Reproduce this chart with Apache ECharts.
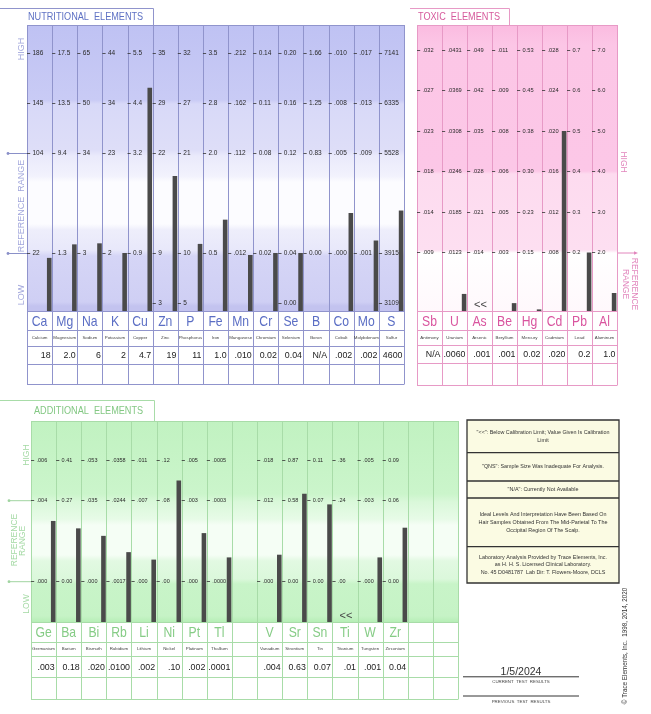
<!DOCTYPE html>
<html><head><meta charset="utf-8">
<script src="https://cdn.jsdelivr.net/npm/echarts@6/dist/echarts.min.js"></script>
<style>html,body{margin:0;padding:0;background:#fff}#c{width:651px;height:714px}</style>
</head><body><div id="c"></div>
<script>
// ---------------- DATA ----------------
const nutriSymbols = ['Ca','Mg','Na','K','Cu','Zn','P','Fe','Mn','Cr','Se','B','Co','Mo','S'];
const nutriNames = ['Calcium','Magnesium','Sodium','Potassium','Copper','Zinc','Phosphorus','Iron','Manganese','Chromium','Selenium','Boron','Cobalt','Molybdenum','Sulfur'];
const nutriResults = ['18','2.0','6','2','4.7','19','11','1.0','.010','0.02','0.04','N/A','.002','.002','4600'];
const nutriValues = [18, 2.0, 6, 2, 4.7, 19, 11, 1.0, 0.010, 0.02, 0.04, null, 0.002, 0.002, 4600];
const nutriBelow = [false,false,false,false,false,false,false,false,false,false,false,false,false,false,false];
// tick labels at: bottom, ref-low, ref-high, high-1, high-2
const nutriTicks = [
  ['', '22', '104', '145', '186'],
  ['', '1.3', '9.4', '13.5', '17.5'],
  ['', '3', '34', '50', '65'],
  ['', '2', '23', '34', '44'],
  ['', '0.9', '3.2', '4.4', '5.5'],
  ['3', '9', '22', '29', '35'],
  ['5', '10', '21', '27', '32'],
  ['', '0.5', '2.0', '2.8', '3.5'],
  ['', '.012', '.112', '.162', '.212'],
  ['', '0.02', '0.08', '0.11', '0.14'],
  ['0.00', '0.04', '0.12', '0.16', '0.20'],
  ['', '0.00', '0.83', '1.25', '1.66'],
  ['', '.000', '.005', '.008', '.010'],
  ['', '.001', '.009', '.013', '.017'],
  ['3109', '3915', '5528', '6335', '7141']
];

const toxicSymbols = ['Sb','U','As','Be','Hg','Cd','Pb','Al'];
const toxicNames = ['Antimony','Uranium','Arsenic','Beryllium','Mercury','Cadmium','Lead','Aluminum'];
const toxicResults = ['N/A','.0060','.001','.001','0.02','.020','0.2','1.0'];
const toxicValues = [null, 0.0060, 0.001, 0.001, 0.02, 0.020, 0.2, 1.0];
const toxicBelow = [false,false,true,false,false,false,false,false];
const toxicTicks = [
  ['.009', '.014', '.018', '.023', '.027', '.032'],
  ['.0123', '.0185', '.0246', '.0308', '.0369', '.0431'],
  ['.014', '.021', '.028', '.035', '.042', '.049'],
  ['.003', '.005', '.006', '.008', '.009', '.011'],
  ['0.15', '0.23', '0.30', '0.38', '0.45', '0.53'],
  ['.008', '.012', '.016', '.020', '.024', '.028'],
  ['0.2', '0.3', '0.4', '0.5', '0.6', '0.7'],
  ['2.0', '3.0', '4.0', '5.0', '6.0', '7.0']
];

const addSymbols = ['Ge','Ba','Bi','Rb','Li','Ni','Pt','Tl','','V','Sr','Sn','Ti','W','Zr','',''];
const addNames = ['Germanium','Barium','Bismuth','Rubidium','Lithium','Nickel','Platinum','Thallium','','Vanadium','Strontium','Tin','Titanium','Tungsten','Zirconium','',''];
const addResults = ['.003','0.18','.020','.0100','.002','.10','.002','.0001','','.004','0.63','0.07','.01','.001','0.04','',''];
const addValues = [0.003, 0.18, 0.020, 0.0100, 0.002, 0.10, 0.002, 0.0001, null, 0.004, 0.63, 0.07, 0.01, 0.001, 0.04, null, null];
const addBelow = [false,false,false,false,false,false,false,false,false,false,false,false,true,false,false,false,false];
// tick labels at: ref-low, ref-high, high
const addTicks = [
  ['.000', '.004', '.006'],
  ['0.00', '0.27', '0.41'],
  ['.000', '.035', '.053'],
  ['.0017', '.0244', '.0358'],
  ['.000', '.007', '.011'],
  ['.00', '.08', '.12'],
  ['.000', '.003', '.005'],
  ['.0000', '.0003', '.0005'],
  null,
  ['.000', '.012', '.018'],
  ['0.00', '0.58', '0.87'],
  ['0.00', '0.07', '0.11'],
  ['.00', '.24', '.36'],
  ['.000', '.003', '.005'],
  ['0.00', '0.06', '0.09'],
  null,
  null
];

const legendRows = [
  ['"<<": Below Calibration Limit; Value Given Is Calibration', 'Limit'],
  ['"QNS": Sample Size Was Inadequate For Analysis.'],
  ['"N/A": Currently Not Available'],
  ['Ideal Levels And Interpretation Have Been Based On', 'Hair Samples Obtained From The Mid-Parietal To The', 'Occipital Region Of The Scalp.'],
  ['Laboratory Analysis Provided by Trace Elements, Inc.', 'as H. H. S. Licensed Clinical Laboratory.', 'No. 45 D0481787  Lab Dir: T. Flowers-Moore, DCLS']
];
const testDate = '1/5/2024';
const copyright = '\u00A9 Trace Elements, Inc.  1998, 2014, 2020';

// ---------------- LAYOUT ----------------
const FONT = '"Liberation Sans", Arial, Helvetica, sans-serif';
const panels = [
  { title: 'NUTRITIONAL  ELEMENTS', symbols: nutriSymbols, names: nutriNames, results: nutriResults, values: nutriValues, below: nutriBelow, ticks: nutriTicks,
    tickUnits: [0,1,3,4,5], fitIdx: [1,4], left: 27, right: 404, top: 25, bottom: 311, rows: [311,330,346,364,384],
    unitY0: 303, unitPx: 50, tickFont: 6.5, lineColor: '#9094cc', symColor: '#5b6ec4', titleColor: '#5f72c4',
    bg: [[25,'#bfc2f3'],[100,'#c9cbf5'],[104,'#d8d9f8'],[150,'#dedef8'],[156,'#eaeafb'],[176,'#f2f2fd'],[182,'#fcfcff'],[224,'#fcfcff'],[230,'#eeeefb'],[250,'#e8e8fa'],[256,'#d5d5f6'],[302,'#cfcff4'],[306,'#c3c3ef'],[311,'#c3c3ef']],
    tab: [[0,8.5],[153.5,8.5],[153.5,25]], titleX: 28, titleY: 17.5 },
  { title: 'TOXIC  ELEMENTS', symbols: toxicSymbols, names: toxicNames, results: toxicResults, values: toxicValues, below: toxicBelow, ticks: toxicTicks,
    tickUnits: [0,1,2,3,4,5], fitIdx: [0,5], left: 417, right: 617, top: 25, bottom: 311, rows: [311,330,345,363,385],
    unitY0: 252.5, unitPx: 40.5, tickFont: 5.7, lineColor: '#e79ac6', symColor: '#d9559f', titleColor: '#d65a9c',
    bg: [[25,'#fbbbe0'],[45,'#fcc6e6'],[171,'#fcc7e7'],[174,'#fddbef'],[250,'#fddff1'],[253,'#ffffff'],[311,'#fff8fc']],
    tab: [[410,8.5],[509.5,8.5],[509.5,25]], titleX: 418, titleY: 17.5 },
  { title: 'ADDITIONAL  ELEMENTS', symbols: addSymbols, names: addNames, results: addResults, values: addValues, below: addBelow, ticks: addTicks,
    tickUnits: [0,2,3], fitIdx: [0,2], left: 31, right: 458, top: 421, bottom: 622, rows: [622,642,656,677,699],
    unitY0: 581.7, unitPx: 40.5, tickFont: 5.5, lineColor: '#a8dca8', symColor: '#86cc86', titleColor: '#84c884',
    bg: [[421,'#c1f2c1'],[494,'#cbf5cb'],[502,'#daf8da'],[519,'#e7fbe7'],[525,'#f5fef5'],[555,'#f5fef5'],[561,'#e2f9e2'],[579,'#dbf8db'],[584,'#c8f4c8'],[616,'#c6f3c6'],[622,'#b6eeb6']],
    tab: [[0,400.5],[154.5,400.5],[154.5,421]], titleX: 34, titleY: 411 }
];

const graphics = [];
const grids = [], xAxes = [], yAxes = [], series = [];

function line(x1,y1,x2,y2,color,w,z){ return {type:'line', silent:true, z: z||1, shape:{x1,y1,x2,y2}, style:{stroke:color, lineWidth:w||1}}; }
function txt(x,y,text,o){
  o = o || {};
  return {type:'text', silent:true, z: o.z||6, x, y, rotation: o.rot||0, scaleX: o.sx||1, scaleY: 1,
    style:{text, fill:o.color||'#333', font:(o.weight?o.weight+' ':'')+(o.size||8)+'px '+FONT,
      align:o.align||'center', verticalAlign:'middle', textAlign:o.align||'center', textVerticalAlign:'middle'}};
}
function grad(stops, top, bottom){
  return new echarts.graphic.LinearGradient(0,0,0,1, stops.map(s=>({offset:(s[0]-top)/(bottom-top), color:s[1]})));
}
function renderBar(params, api){
  const cs = params.coordSys;
  const yTop = api.coord([0, api.value(1)])[1];
  const yBot = cs.y + cs.height;
  const h = Math.max(yBot - yTop, 1.6);
  const w = 4.6;
  return {type:'rect', shape:{x: cs.x + cs.width - w - 0.6, y: yBot - h, width: w, height: h}, style:{fill:'#4a4a4a'}};
}
function makeFmt(tv, tl){
  return function(val){
    let best = 0, bd = Infinity;
    tv.forEach((t,k)=>{ const d = Math.abs(t - val); if (d < bd){ bd = d; best = k; } });
    return tl[best];
  };
}

panels.forEach(p => {
  const n = p.symbols.length;
  const colW = (p.right - p.left) / n;
  const uBottom = (p.unitY0 - p.bottom) / p.unitPx;
  const uTop = (p.unitY0 - p.top) / p.unitPx;
  const tableBottom = p.rows[p.rows.length-1];
  graphics.push({type:'rect', silent:true, z:0, shape:{x:p.left, y:p.top, width:p.right-p.left, height:p.bottom-p.top}, style:{fill:grad(p.bg, p.top, p.bottom)}});
  graphics.push({type:'polyline', silent:true, z:1, shape:{points:p.tab}, style:{stroke:p.lineColor, lineWidth:1, fill:null}});
  graphics.push(txt(p.titleX, p.titleY, p.title, {align:'left', size:10.5, color:p.titleColor, sx:0.87}));
  graphics.push(line(p.left, p.top+0.5, p.right, p.top+0.5, p.lineColor));
  p.rows.forEach(y => graphics.push(line(p.left, y+0.5, p.right, y+0.5, p.lineColor)));
  for (let i = 0; i <= n; i++){
    const x = Math.round(p.left + i*colW) + 0.5;
    graphics.push(line(x, p.top, x, tableBottom+0.5, p.lineColor, 1, 3));
  }
  for (let i = 0; i < n; i++){
    const x0 = p.left + i*colW, x1 = x0 + colW, cx = x0 + colW/2;
    if (p.symbols[i]){
      graphics.push(txt(cx, (p.rows[0]+p.rows[1])/2 + 1, p.symbols[i], {size:14.5, color:p.symColor, sx:0.84}));
      graphics.push(txt(cx, (p.rows[1]+p.rows[2])/2, p.names[i], {size:4.4, color:'#444'}));
      graphics.push(txt(x1 - 1.5, (p.rows[2]+p.rows[3])/2 + 0.5, p.results[i], {size:9.6, color:'#222', align:'right', sx:0.92}));
    }
    if (p.below[i]){
      graphics.push(txt(cx + 1, p.bottom - 6.5, '<<', {size:11, color:'#444'}));
    }
    const t = p.ticks[i];
    if (!t) continue;
    const ia = p.fitIdx[0], ib = p.fitIdx[1];
    const ua = p.tickUnits[ia], ub = p.tickUnits[ib];
    const va = parseFloat(t[ia]), vb = parseFloat(t[ib]);
    const slope = (vb - va) / (ub - ua);
    const f = u => va + (u - ua) * slope;
    const tv = [], tl = [];
    t.forEach((s,k) => { if (s !== '') { tv.push(f(p.tickUnits[k])); tl.push(s); } });
    const gi = grids.length;
    grids.push({left: x0, top: p.top, width: colW, height: p.bottom - p.top, show:false, containLabel:false});
    xAxes.push({type:'category', gridIndex:gi, data:['v'], show:false});
    yAxes.push({type:'value', gridIndex:gi, min:f(uBottom), max:f(uTop), position:'left', z:5,
      axisLine:{show:false}, splitLine:{show:false},
      axisTick:{show:true, inside:true, length:3.2, customValues:tv, lineStyle:{color:'#333', width:0.8}},
      axisLabel:{show:true, inside:true, margin:5.5, customValues:tv, showMinLabel:true, showMaxLabel:true,
        fontSize:p.tickFont, color:'#2a2a2a', fontFamily:FONT, verticalAlign:'middle', formatter:makeFmt(tv, tl)}});
    const v = p.values[i];
    series.push({type:'custom', xAxisIndex:gi, yAxisIndex:gi, z:4, silent:true, clip:false, animation:false,
      renderItem:renderBar, data:(v === null || p.below[i]) ? [] : [[0, v]]});
  }
});

// side labels - nutritional
const nC = '#a2a7dc';
graphics.push(txt(22, 49, 'HIGH', {rot:Math.PI/2, size:9, color:nC}));
graphics.push(txt(22, 206, 'REFERENCE  RANGE', {rot:Math.PI/2, size:9, color:nC}));
graphics.push(txt(22, 295, 'LOW', {rot:Math.PI/2, size:9, color:nC}));
[153, 253].forEach(y => {
  graphics.push(line(8, y+0.5, 27, y+0.5, '#8a90c8'));
  graphics.push({type:'circle', silent:true, z:2, shape:{cx:8, cy:y+0.5, r:1.4}, style:{fill:'#8a90c8'}});
});
// toxic
const tC = '#e286bd';
graphics.push(txt(623.5, 162, 'HIGH', {rot:-Math.PI/2, size:8.5, color:tC}));
graphics.push(txt(634, 284, 'REFERENCE', {rot:-Math.PI/2, size:8.5, color:tC}));
graphics.push(txt(625, 284, 'RANGE', {rot:-Math.PI/2, size:8.5, color:tC}));
graphics.push(line(617, 253, 636, 253, tC));
graphics.push({type:'polygon', silent:true, z:2, shape:{points:[[638,253],[634,251.2],[634,254.8]]}, style:{fill:tC}});
// additional
const aC = '#a3d9a3';
graphics.push(txt(27, 455, 'HIGH', {rot:Math.PI/2, size:8.5, color:aC}));
graphics.push(txt(14.5, 540, 'REFERENCE', {rot:Math.PI/2, size:8.5, color:aC}));
graphics.push(txt(22.5, 541, 'RANGE', {rot:Math.PI/2, size:8.5, color:aC}));
graphics.push(txt(27, 604, 'LOW', {rot:Math.PI/2, size:8.5, color:aC}));
[500.7, 581.7].forEach(y => {
  graphics.push(line(9, y, 31, y, '#a0d4a0'));
  graphics.push({type:'circle', silent:true, z:2, shape:{cx:9, cy:y, r:1.4}, style:{fill:'#a0d4a0'}});
});

// legend box
const lbX = 467, lbW = 152;
const lbRows = [420, 452.7, 481, 498, 546.7, 583];
graphics.push({type:'rect', silent:true, z:1, shape:{x:lbX, y:lbRows[0], width:lbW, height:lbRows[5]-lbRows[0]}, style:{fill:'#fbfbe3', stroke:'#333', lineWidth:1.3}});
for (let r = 1; r < 5; r++) graphics.push(line(lbX, lbRows[r], lbX+lbW, lbRows[r], '#333', 1.3));
legendRows.forEach((rowLines, r) => {
  const cy = (lbRows[r] + lbRows[r+1]) / 2;
  const lh = 7.7;
  rowLines.forEach((s, k) => {
    graphics.push(txt(lbX + lbW/2, cy + (k - (rowLines.length-1)/2) * lh, s, {size:5.4, color:'#333'}));
  });
});
// test results
graphics.push(txt(521, 672, testDate, {size:10.5, color:'#333'}));
graphics.push(line(463, 676.8, 579, 676.8, '#333', 1));
graphics.push(txt(521, 682, 'CURRENT  TEST  RESULTS', {size:4.4, color:'#444'}));
graphics.push(line(463, 696, 579, 696, '#333', 1));
graphics.push(txt(521, 701.5, 'PREVIOUS  TEST  RESULTS', {size:4.4, color:'#444'}));
// copyright
graphics.push(txt(625.5, 646, copyright, {rot:Math.PI/2, size:6.3, color:'#333'}));

const chart = echarts.init(document.getElementById('c'), null, {renderer:'canvas'});
chart.setOption({
  animation:false,
  backgroundColor:'#ffffff',
  grid: grids, xAxis: xAxes, yAxis: yAxes, series: series,
  graphic: {elements: graphics}
});
</script></body></html>
